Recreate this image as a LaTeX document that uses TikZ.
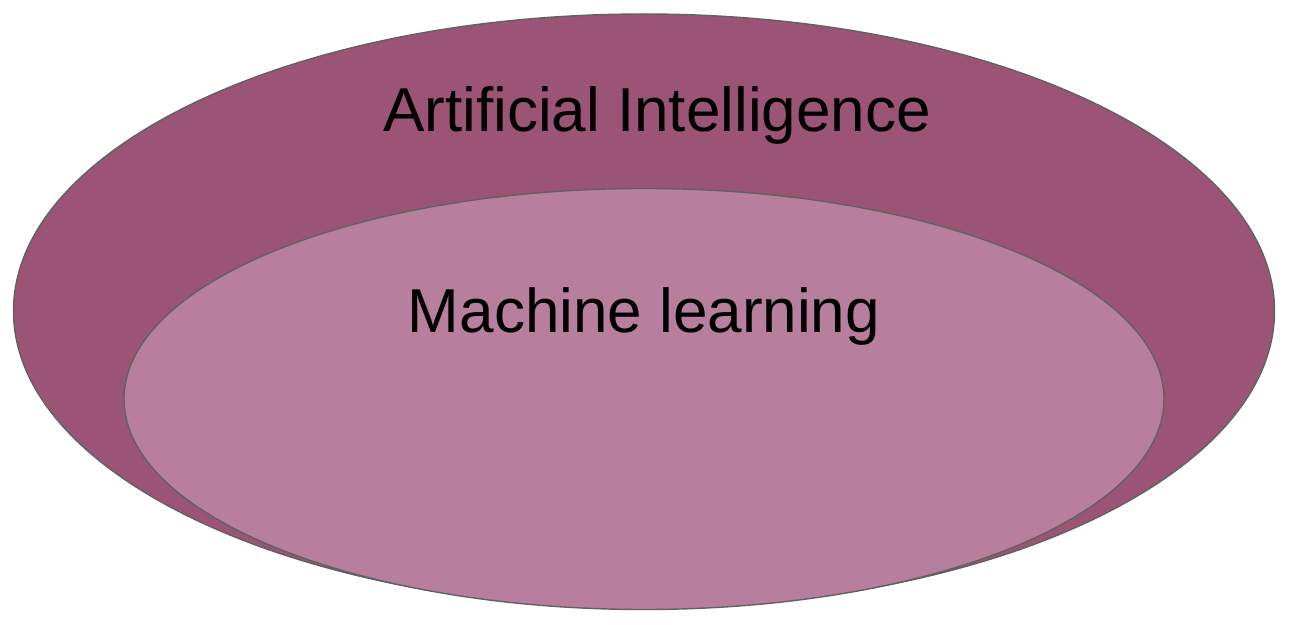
\documentclass[tikz,border=0pt]{standalone}
\usepackage{fontspec}
\setmainfont{Liberation Sans}
\usetikzlibrary{shapes.geometric}

\definecolor{aiplum}{HTML}{9B5475}
\definecolor{mlplum}{HTML}{B77F9D}
\definecolor{rimgray}{HTML}{616161}

\tikzset{
  setblob/.style={ellipse, draw=rimgray, line width=1.4pt, inner sep=0pt},
  setlabel/.style={font=\fontsize{62}{70}\selectfont, text=black, anchor=base, inner sep=0pt}
}

\begin{document}
\begin{tikzpicture}[x=1pt, y=1pt]
    \useasboundingbox (0,0) rectangle (1298,624);

    % outer set
    \node[setblob, fill=aiplum, minimum width=1261pt, minimum height=594pt] (ai) at (644,313) {};
    % inner set
    \node[setblob, fill=mlplum, minimum width=1040pt, minimum height=421pt] (ml) at (644,225) {};

    % labels
    \node[setlabel] (ailabel) at (657,492) {Artificial Intelligence};
    \node[setlabel] (mllabel) at (644,291) {Machine learning};
\end{tikzpicture}
\end{document}
